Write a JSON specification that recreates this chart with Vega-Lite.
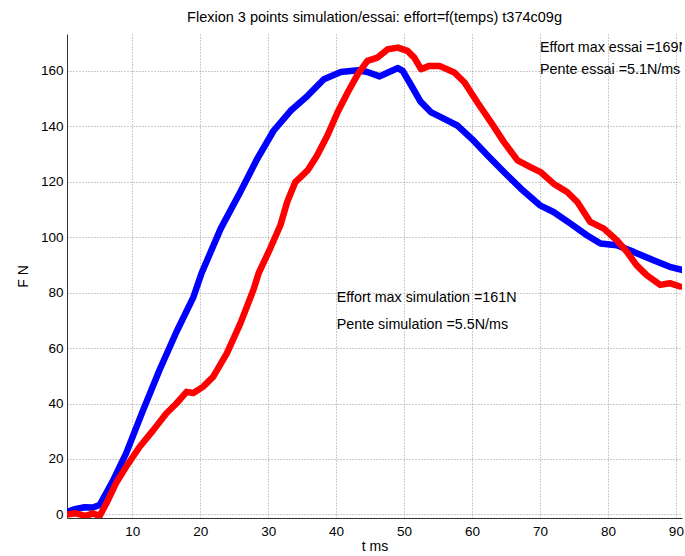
{
  "$schema": "https://vega.github.io/schema/vega-lite/v6.json",
  "width": 615,
  "height": 484,
  "autosize": {"type": "none"},
  "padding": {"left": 67, "top": 34, "right": 3, "bottom": 38},
  "background": "white",
  "title": {
    "text": "Flexion 3 points simulation/essai: effort=f(temps)  t374c09g",
    "font": "Liberation Sans",
    "fontSize": 14.5,
    "fontWeight": "normal",
    "color": "#000",
    "anchor": "middle",
    "offset": 9
  },
  "config": {
    "view": {"stroke": null},
    "font": "Liberation Sans",
    "axis": {
      "labelFont": "Liberation Sans",
      "labelFontSize": 13.5,
      "labelColor": "#000",
      "titleFont": "Liberation Sans",
      "titleFontSize": 14,
      "titleFontWeight": "normal",
      "titleColor": "#000",
      "domainColor": "#333",
      "tickColor": "#333",
      "tickSize": 0,
      "gridColor": "#999",
      "gridDash": [1, 2],
      "gridWidth": 1
    }
  },
  "datasets": {
    "curves": [
      {"series": "simulation", "t": 0.0, "F": 0.5},
      {"series": "simulation", "t": 1.7, "F": 2.0},
      {"series": "simulation", "t": 3.0, "F": 2.6},
      {"series": "simulation", "t": 4.2, "F": 2.5},
      {"series": "simulation", "t": 5.2, "F": 3.4},
      {"series": "simulation", "t": 7.1, "F": 11.8},
      {"series": "simulation", "t": 9.1, "F": 22.0},
      {"series": "simulation", "t": 11.6, "F": 37.6},
      {"series": "simulation", "t": 14.0, "F": 52.0},
      {"series": "simulation", "t": 16.5, "F": 65.8},
      {"series": "simulation", "t": 19.0, "F": 78.4},
      {"series": "simulation", "t": 20.2, "F": 87.0},
      {"series": "simulation", "t": 23.0, "F": 103.0},
      {"series": "simulation", "t": 25.9, "F": 116.3},
      {"series": "simulation", "t": 28.4, "F": 128.3},
      {"series": "simulation", "t": 30.8, "F": 138.4},
      {"series": "simulation", "t": 33.3, "F": 145.6},
      {"series": "simulation", "t": 35.8, "F": 151.0},
      {"series": "simulation", "t": 38.2, "F": 157.0},
      {"series": "simulation", "t": 40.7, "F": 159.6},
      {"series": "simulation", "t": 43.2, "F": 160.2},
      {"series": "simulation", "t": 44.6, "F": 159.6},
      {"series": "simulation", "t": 46.4, "F": 158.0},
      {"series": "simulation", "t": 47.8, "F": 159.6},
      {"series": "simulation", "t": 49.1, "F": 161.0},
      {"series": "simulation", "t": 49.8, "F": 160.0},
      {"series": "simulation", "t": 51.0, "F": 155.0},
      {"series": "simulation", "t": 52.4, "F": 149.0},
      {"series": "simulation", "t": 54.0, "F": 145.0},
      {"series": "simulation", "t": 56.0, "F": 142.6},
      {"series": "simulation", "t": 57.9, "F": 140.2},
      {"series": "simulation", "t": 60.0, "F": 135.4},
      {"series": "simulation", "t": 62.3, "F": 129.5},
      {"series": "simulation", "t": 64.7, "F": 123.5},
      {"series": "simulation", "t": 67.2, "F": 117.5},
      {"series": "simulation", "t": 70.0, "F": 111.5},
      {"series": "simulation", "t": 72.0, "F": 109.1},
      {"series": "simulation", "t": 74.5, "F": 104.9},
      {"series": "simulation", "t": 76.9, "F": 100.7},
      {"series": "simulation", "t": 78.9, "F": 97.7},
      {"series": "simulation", "t": 81.3, "F": 97.1},
      {"series": "simulation", "t": 83.8, "F": 94.7},
      {"series": "simulation", "t": 86.7, "F": 91.7},
      {"series": "simulation", "t": 89.1, "F": 89.3},
      {"series": "simulation", "t": 91.1, "F": 88.1},
      {"series": "essai", "t": 0.0, "F": -0.2},
      {"series": "essai", "t": 1.7, "F": 0.4},
      {"series": "essai", "t": 3.2, "F": -0.6},
      {"series": "essai", "t": 4.2, "F": 0.4},
      {"series": "essai", "t": 5.2, "F": -0.6},
      {"series": "essai", "t": 6.2, "F": 4.0},
      {"series": "essai", "t": 7.6, "F": 11.2},
      {"series": "essai", "t": 9.1, "F": 17.2},
      {"series": "essai", "t": 11.1, "F": 24.4},
      {"series": "essai", "t": 13.1, "F": 30.4},
      {"series": "essai", "t": 15.0, "F": 36.4},
      {"series": "essai", "t": 16.5, "F": 40.0},
      {"series": "essai", "t": 18.0, "F": 44.2},
      {"series": "essai", "t": 19.0, "F": 43.8},
      {"series": "essai", "t": 20.4, "F": 46.0},
      {"series": "essai", "t": 21.9, "F": 49.6},
      {"series": "essai", "t": 23.9, "F": 58.0},
      {"series": "essai", "t": 25.9, "F": 68.8},
      {"series": "essai", "t": 27.8, "F": 80.8},
      {"series": "essai", "t": 28.6, "F": 87.0},
      {"series": "essai", "t": 30.3, "F": 95.9},
      {"series": "essai", "t": 31.8, "F": 104.3},
      {"series": "essai", "t": 32.8, "F": 112.7},
      {"series": "essai", "t": 34.0, "F": 119.9},
      {"series": "essai", "t": 35.8, "F": 124.1},
      {"series": "essai", "t": 37.2, "F": 129.5},
      {"series": "essai", "t": 38.7, "F": 136.6},
      {"series": "essai", "t": 40.2, "F": 145.0},
      {"series": "essai", "t": 41.7, "F": 152.2},
      {"series": "essai", "t": 43.2, "F": 158.8},
      {"series": "essai", "t": 44.6, "F": 163.6},
      {"series": "essai", "t": 46.1, "F": 164.8},
      {"series": "essai", "t": 47.6, "F": 167.8},
      {"series": "essai", "t": 49.1, "F": 168.4},
      {"series": "essai", "t": 50.5, "F": 167.2},
      {"series": "essai", "t": 51.5, "F": 164.8},
      {"series": "essai", "t": 52.5, "F": 160.6},
      {"series": "essai", "t": 53.7, "F": 161.8},
      {"series": "essai", "t": 55.2, "F": 161.8},
      {"series": "essai", "t": 57.4, "F": 159.4},
      {"series": "essai", "t": 58.9, "F": 155.8},
      {"series": "essai", "t": 60.8, "F": 148.6},
      {"series": "essai", "t": 62.8, "F": 141.4},
      {"series": "essai", "t": 64.7, "F": 134.3},
      {"series": "essai", "t": 66.7, "F": 127.7},
      {"series": "essai", "t": 68.6, "F": 125.3},
      {"series": "essai", "t": 70.1, "F": 123.5},
      {"series": "essai", "t": 72.0, "F": 119.3},
      {"series": "essai", "t": 74.0, "F": 116.3},
      {"series": "essai", "t": 75.5, "F": 112.7},
      {"series": "essai", "t": 77.4, "F": 105.5},
      {"series": "essai", "t": 79.4, "F": 103.1},
      {"series": "essai", "t": 81.3, "F": 98.9},
      {"series": "essai", "t": 82.8, "F": 94.7},
      {"series": "essai", "t": 84.2, "F": 89.9},
      {"series": "essai", "t": 85.7, "F": 86.3},
      {"series": "essai", "t": 87.7, "F": 82.8},
      {"series": "essai", "t": 89.1, "F": 83.4},
      {"series": "essai", "t": 90.6, "F": 82.2}
    ],
    "notes": [
      {"t": 70.0, "F": 168.2, "label": "Effort max essai =169N"},
      {"t": 70.0, "F": 160.3, "label": "Pente essai =5.1N/ms"},
      {"t": 40.1, "F": 77.9, "label": "Effort max simulation =161N"},
      {"t": 40.1, "F": 68.3, "label": "Pente simulation =5.5N/ms"}
    ]
  },
  "encoding": {
    "x": {
      "field": "t",
      "type": "quantitative",
      "scale": {"domain": [0.4, 90.9], "nice": false, "zero": false},
      "axis": {
        "title": "t ms",
        "values": [10, 20, 30, 40, 50, 60, 70, 80, 90],
        "labelPadding": 6,
        "titlePadding": 2,
        "labelFlush": false
      }
    },
    "y": {
      "field": "F",
      "type": "quantitative",
      "scale": {"domain": [-1.3, 173.3], "nice": false, "zero": false},
      "axis": {
        "title": "F N",
        "values": [0, 20, 40, 60, 80, 100, 120, 140, 160],
        "labelPadding": 4,
        "titlePadding": 10,
        "labelFlush": false
      }
    }
  },
  "layer": [
    {
      "data": {"name": "curves"},
      "transform": [{"filter": "datum.series === 'simulation'"}],
      "mark": {"type": "line", "color": "#0000ff", "strokeWidth": 6.5, "strokeCap": "round", "strokeJoin": "round", "clip": true}
    },
    {
      "data": {"name": "curves"},
      "transform": [{"filter": "datum.series === 'essai'"}],
      "mark": {"type": "line", "color": "#ff0000", "strokeWidth": 6.5, "strokeCap": "round", "strokeJoin": "round", "clip": true}
    },
    {
      "data": {"name": "notes"},
      "mark": {"type": "text", "align": "left", "baseline": "middle", "font": "Liberation Sans", "fontSize": 14.3, "color": "#000", "clip": true},
      "encoding": {"text": {"field": "label", "type": "nominal"}}
    }
  ]
}
